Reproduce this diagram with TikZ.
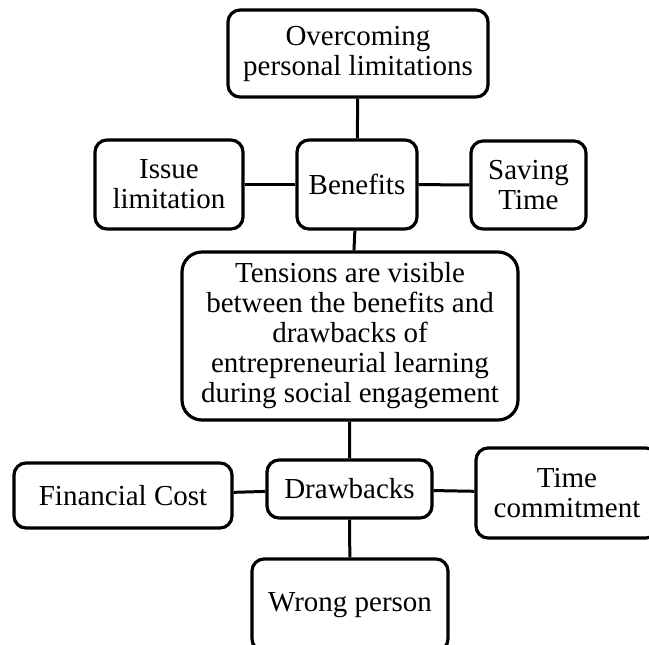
\documentclass[tikz,border=0pt]{standalone}
\usepackage{fontspec}
\setmainfont{Liberation Serif}
\usepackage{tikz}
\usetikzlibrary{positioning}

\begin{document}
\begin{tikzpicture}[
  x=0.5pt, y=-0.5pt,
  box/.style={draw, fill=white, line width=1.6pt, rounded corners=6pt, align=center, inner sep=0pt, font=\fontsize{14.5}{15}\selectfont},
  link/.style={line width=1.5pt}
]
\clip (0,0) rectangle (649,644);

% Benefits side
\node[box, minimum width=130pt, minimum height=43.5pt] (over) at (358, 53.5) {Overcoming\\personal limitations};
\node[box, minimum width=60pt, minimum height=44.5pt] (benefits) at (357, 184.5) {Benefits};
\node[box, minimum width=74pt, minimum height=44.5pt] (issue) at (169, 184.5) {Issue\\limitation};
\node[box, minimum width=57.5pt, minimum height=44pt] (saving) at (528.5, 185) {Saving\\Time};

% Central statement
\node[box, rounded corners=10pt, minimum width=168pt, minimum height=84pt] (tension) at (350, 336) {Tensions are visible\\between the benefits and\\drawbacks of\\entrepreneurial learning\\during social engagement};

% Drawbacks side
\node[box, minimum width=82.5pt, minimum height=29pt] (drawbacks) at (349.5, 489) {Drawbacks};
\node[box, minimum width=109pt, minimum height=32.5pt] (finance) at (123, 495.5) {Financial Cost};
\node[box, minimum width=91pt, minimum height=45pt] (timecom) at (567, 493) {Time\\commitment};
\node[box, minimum width=98pt, minimum height=46pt] (wrong) at (350, 605) {Wrong person};

% Links
\draw[link] (over) -- (benefits);
\draw[link] (issue) -- (benefits);
\draw[link] (benefits) -- (saving);
\draw[link] (benefits) -- (tension);
\draw[link] (tension) -- (drawbacks);
\draw[link] (finance) -- (drawbacks);
\draw[link] (drawbacks) -- (timecom);
\draw[link] (drawbacks) -- (wrong);
\end{tikzpicture}
\end{document}
